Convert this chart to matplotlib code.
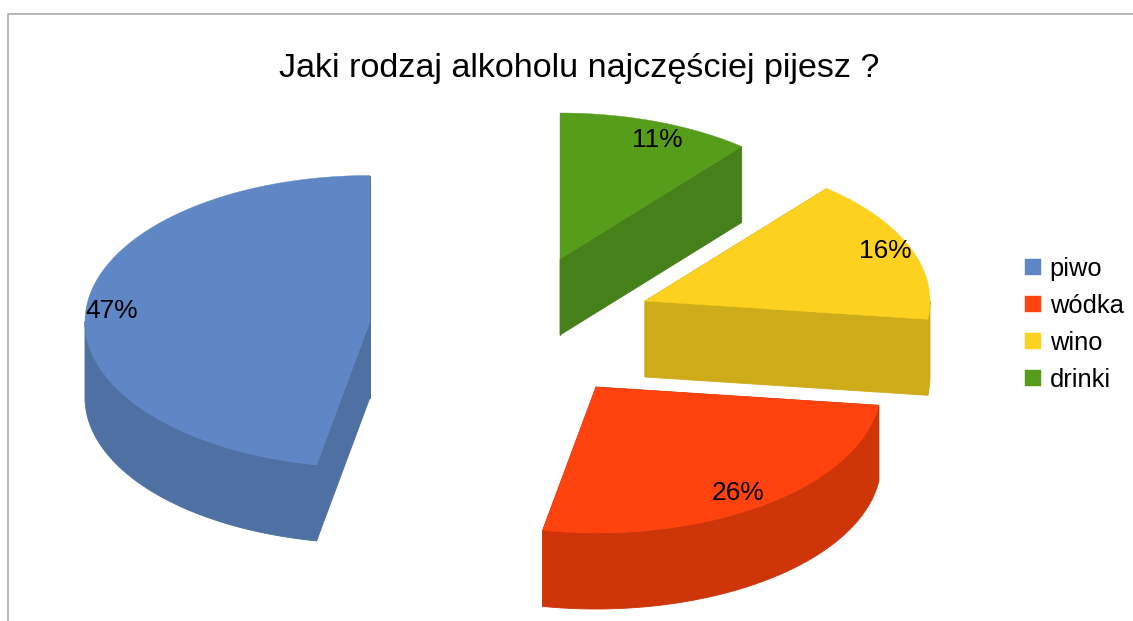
#!/usr/bin/env python3
# -*- coding: utf-8 -*-

import numpy as np
import matplotlib
matplotlib.use("Agg")
import matplotlib.pyplot as plt
from matplotlib.patches import Polygon, Patch

plt.rcParams["font.family"] = ["Liberation Sans", "DejaVu Sans"]

# --- donnees ---
title = "Jaki rodzaj alkoholu najczęściej pijesz ?"
labels = ["piwo", "wódka", "wino", "drinki"]
values = [47, 26, 16, 11]

# --- style et mise en page (pixels de l'image) ---
top_colors = ["#5f87c6", "#ff420e", "#fdd120", "#579d1c"]
side_colors = ["#4e70a2", "#ce3509", "#ceac19", "#46801a"]
apex_xy = [(370, 321.5), (596, 387), (645, 301), (560, 259)]
label_xy = [(112, 311), (738, 493), (885, 251), (657, 140)]
rx, ry, depth = 285, 146, 76

fig = plt.figure(figsize=(11.33, 6.21), dpi=100, facecolor="white")
ax = fig.add_axes([0, 0, 1, 1])
ax.set_xlim(0, 1133)
ax.set_ylim(621, 0)
ax.axis("off")

# cadre gris en haut et a gauche
ax.plot([8, 8, 1133], [621, 13.5, 13.5], color="#ababab", lw=1.2, solid_joinstyle="miter")

ax.text(579, 68.5, title, fontsize=24.6, ha="center", va="center", color="black")


def arc_points(cx, cy, start, end):
    # angles en degres depuis le haut, sens anti-horaire
    t = np.radians(np.linspace(start, end, 120))
    return np.column_stack([cx - rx * np.sin(t), cy - ry * np.cos(t)])


shares = np.array(values) / sum(values) * 360
edges = np.concatenate([[0], np.cumsum(shares)])

for i, val in enumerate(values):
    cx, cy = apex_xy[i]
    arc = arc_points(cx, cy, edges[i], edges[i + 1])
    low = arc + [0, depth]
    apex = np.array([[cx, cy]])
    apex_low = apex + [0, depth]

    # faces laterales d'abord, le dessus les recouvre
    faces = [
        np.vstack([apex, arc[:1], low[:1], apex_low]),
        np.vstack([apex, arc[-1:], low[-1:], apex_low]),
    ]
    # bord courbe : seulement la partie tournee vers l'avant (90 a 270 degres)
    front_start, front_end = max(edges[i], 90), min(edges[i + 1], 270)
    if front_start < front_end:
        front = arc_points(cx, cy, front_start, front_end)
        faces.append(np.vstack([front, (front + [0, depth])[::-1]]))

    for face in faces:
        ax.add_patch(Polygon(face, closed=True, facecolor=side_colors[i], edgecolor=side_colors[i], lw=0.6))
    ax.add_patch(Polygon(np.vstack([apex, arc]), closed=True, facecolor=top_colors[i], edgecolor=top_colors[i], lw=0.3))

    ax.text(label_xy[i][0], label_xy[i][1], f"{val}%", fontsize=18.9, ha="center", va="center", color="black")

handles = [Patch(facecolor=c, edgecolor=c, lw=0.3) for c in top_colors]
ax.legend(
    handles, labels,
    loc="upper left", bbox_to_anchor=(1025, 257), bbox_transform=ax.transData,
    frameon=False, fontsize=18.4, borderpad=0, borderaxespad=0,
    handlelength=0.62, handleheight=0.62, handletextpad=0.35, labelspacing=0.51,
)

fig.savefig("out.png", dpi=100)
